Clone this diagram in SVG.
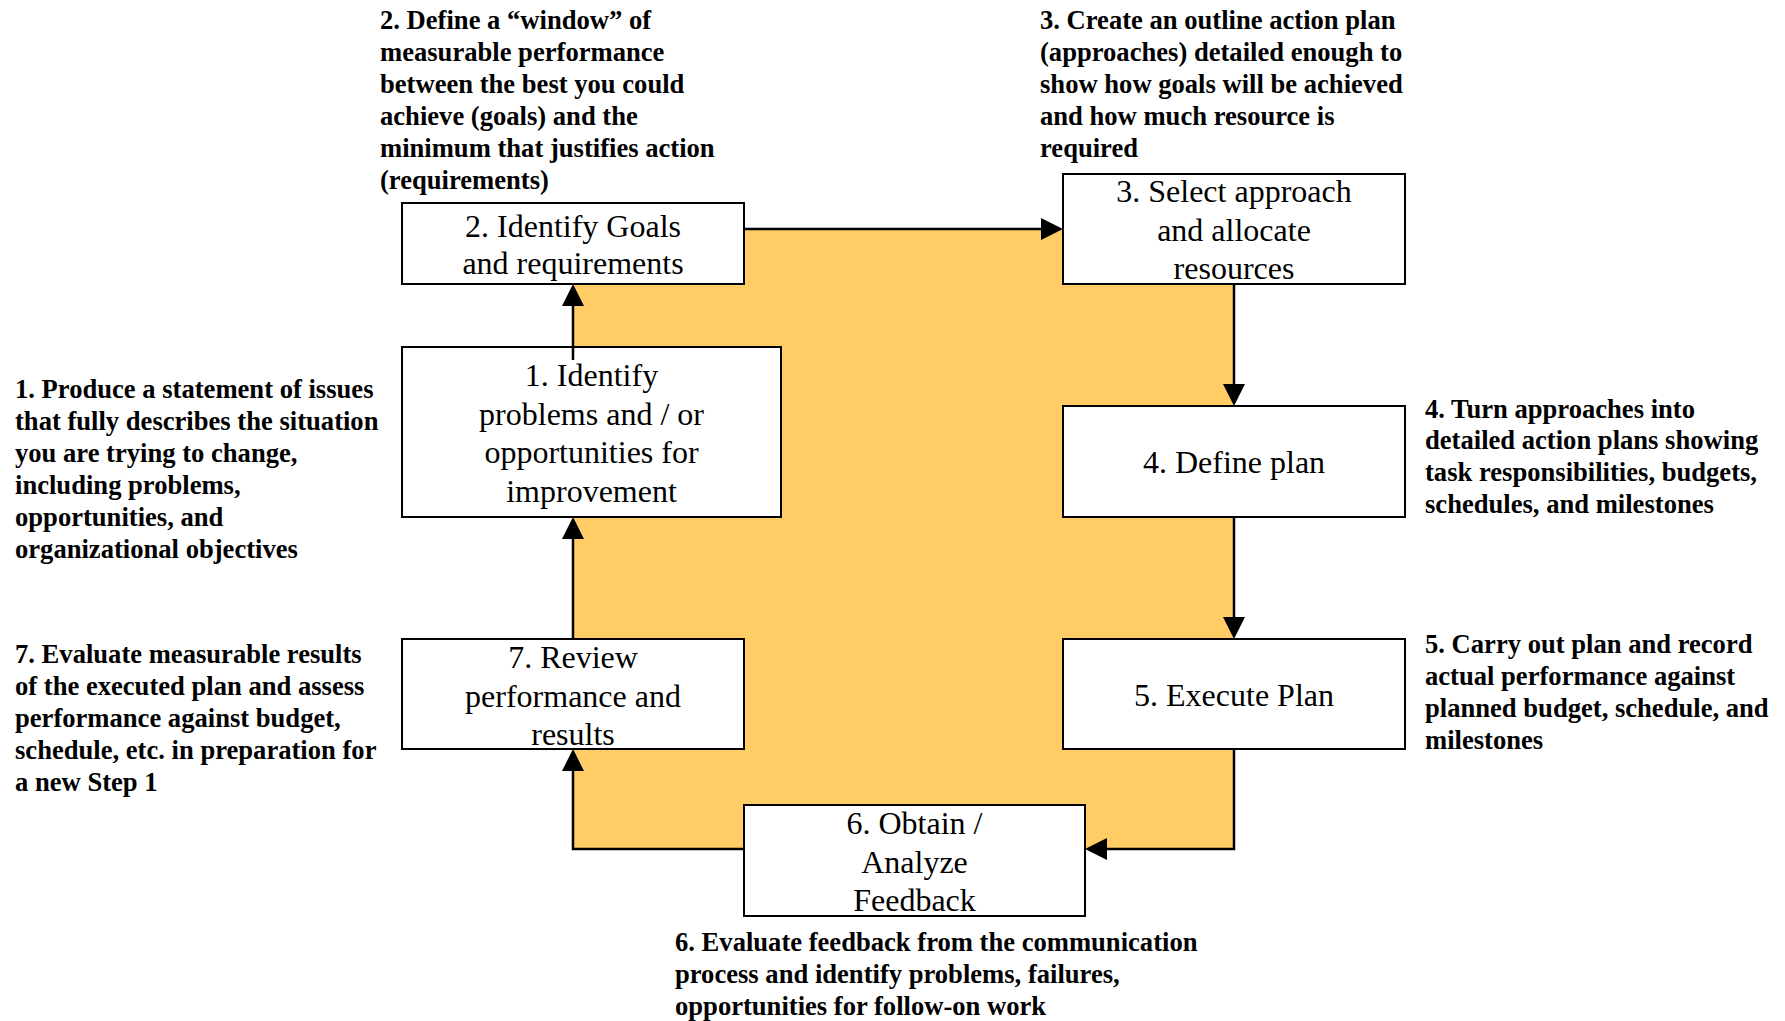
<svg xmlns="http://www.w3.org/2000/svg" width="1785" height="1021" viewBox="0 0 1785 1021">
  <style>
    .box { fill: #ffffff; stroke: #000000; stroke-width: 2; }
    .lbl { font-family: "Liberation Serif", "Times New Roman", serif; font-size: 32px; fill: #000000; text-anchor: middle; }
    .note { font-family: "Liberation Serif", "Times New Roman", serif; font-size: 26.6px; font-weight: bold; fill: #000000; }
    .conn { fill: none; stroke: #000000; stroke-width: 2.5; }
  </style>
  <defs>
    <marker id="arrow" markerUnits="userSpaceOnUse" markerWidth="22" markerHeight="22" refX="18" refY="11" orient="auto">
      <path d="M0,0 L22,11 L0,22 Z" fill="#000000"/>
    </marker>
  </defs>
  <rect width="1785" height="1021" fill="#ffffff"/>

  <!-- orange background area inside the loop -->
  <rect id="loop-fill" x="573" y="229" width="661" height="620" fill="#FFCC66"/>

  <g id="node-2">
    <rect class="box" x="402" y="203" width="342" height="81"/>
    <text class="lbl" x="573" y="237">2. Identify Goals</text>
    <text class="lbl" x="573" y="274">and requirements</text>
  </g>
  <g id="node-1">
    <rect class="box" x="402" y="347" width="379" height="170"/>
    <text class="lbl" x="591.5" y="386">1. Identify</text>
    <text class="lbl" x="591.5" y="424.7">problems and / or</text>
    <text class="lbl" x="591.5" y="463.4">opportunities for</text>
    <text class="lbl" x="591.5" y="502.1">improvement</text>
  </g>
  <g id="node-3">
    <rect class="box" x="1063" y="174" width="342" height="110"/>
    <text class="lbl" x="1234" y="202">3. Select approach</text>
    <text class="lbl" x="1234" y="240.7">and allocate</text>
    <text class="lbl" x="1234" y="279.4">resources</text>
  </g>
  <g id="node-4">
    <rect class="box" x="1063" y="406" width="342" height="111"/>
    <text class="lbl" x="1234" y="473">4. Define plan</text>
  </g>
  <g id="node-5">
    <rect class="box" x="1063" y="639" width="342" height="110"/>
    <text class="lbl" x="1234" y="706">5. Execute Plan</text>
  </g>
  <g id="node-7">
    <rect class="box" x="402" y="639" width="342" height="110"/>
    <text class="lbl" x="573" y="668">7. Review</text>
    <text class="lbl" x="573" y="706.5">performance and</text>
    <text class="lbl" x="573" y="745">results</text>
  </g>
  <g id="node-6">
    <rect class="box" x="744" y="805" width="341" height="111"/>
    <text class="lbl" x="914.5" y="834">6. Obtain /</text>
    <text class="lbl" x="914.5" y="872.5">Analyze</text>
    <text class="lbl" x="914.5" y="911">Feedback</text>
  </g>

  <g id="connectors">
    <path class="conn" d="M573,360 L573,288" marker-end="url(#arrow)"/>
    <path class="conn" d="M744,229 L1059,229" marker-end="url(#arrow)"/>
    <path class="conn" d="M1234,284 L1234,402" marker-end="url(#arrow)"/>
    <path class="conn" d="M1234,517 L1234,635" marker-end="url(#arrow)"/>
    <path class="conn" d="M1234,749 L1234,849 L1089,849" marker-end="url(#arrow)"/>
    <path class="conn" d="M744,849 L573,849 L573,753" marker-end="url(#arrow)"/>
    <path class="conn" d="M573,639 L573,521" marker-end="url(#arrow)"/>
  </g>

  <g id="notes">
    <text class="note" x="380" y="29.3">2. Define a “window” of</text>
    <text class="note" x="380" y="61.2">measurable performance</text>
    <text class="note" x="380" y="93">between the best you could</text>
    <text class="note" x="380" y="124.9">achieve (goals) and the</text>
    <text class="note" x="380" y="156.8">minimum that justifies action</text>
    <text class="note" x="380" y="188.7">(requirements)</text>

    <text class="note" x="1040" y="29.3">3. Create an outline action plan</text>
    <text class="note" x="1040" y="61.2">(approaches) detailed enough to</text>
    <text class="note" x="1040" y="93">show how goals will be achieved</text>
    <text class="note" x="1040" y="124.9">and how much resource is</text>
    <text class="note" x="1040" y="156.8">required</text>

    <text class="note" x="15" y="398">1. Produce a statement of issues</text>
    <text class="note" x="15" y="429.9">that fully describes the situation</text>
    <text class="note" x="15" y="461.8">you are trying to change,</text>
    <text class="note" x="15" y="493.7">including problems,</text>
    <text class="note" x="15" y="525.6">opportunities, and</text>
    <text class="note" x="15" y="557.5">organizational objectives</text>

    <text class="note" x="15" y="663.4">7. Evaluate measurable results</text>
    <text class="note" x="15" y="695.3">of the executed plan and assess</text>
    <text class="note" x="15" y="727.2">performance against budget,</text>
    <text class="note" x="15" y="759.1">schedule, etc. in preparation for</text>
    <text class="note" x="15" y="791">a new Step 1</text>

    <text class="note" x="1425" y="417.5">4. Turn approaches into</text>
    <text class="note" x="1425" y="449.4">detailed action plans showing</text>
    <text class="note" x="1425" y="481.3">task responsibilities, budgets,</text>
    <text class="note" x="1425" y="513.2">schedules, and milestones</text>

    <text class="note" x="1425" y="653.1">5. Carry out plan and record</text>
    <text class="note" x="1425" y="685">actual performance against</text>
    <text class="note" x="1425" y="716.9">planned budget, schedule, and</text>
    <text class="note" x="1425" y="748.8">milestones</text>

    <text class="note" x="675" y="951.4">6. Evaluate feedback from the communication</text>
    <text class="note" x="675" y="983.3">process and identify problems, failures,</text>
    <text class="note" x="675" y="1015.2">opportunities for follow-on work</text>
  </g>
</svg>
